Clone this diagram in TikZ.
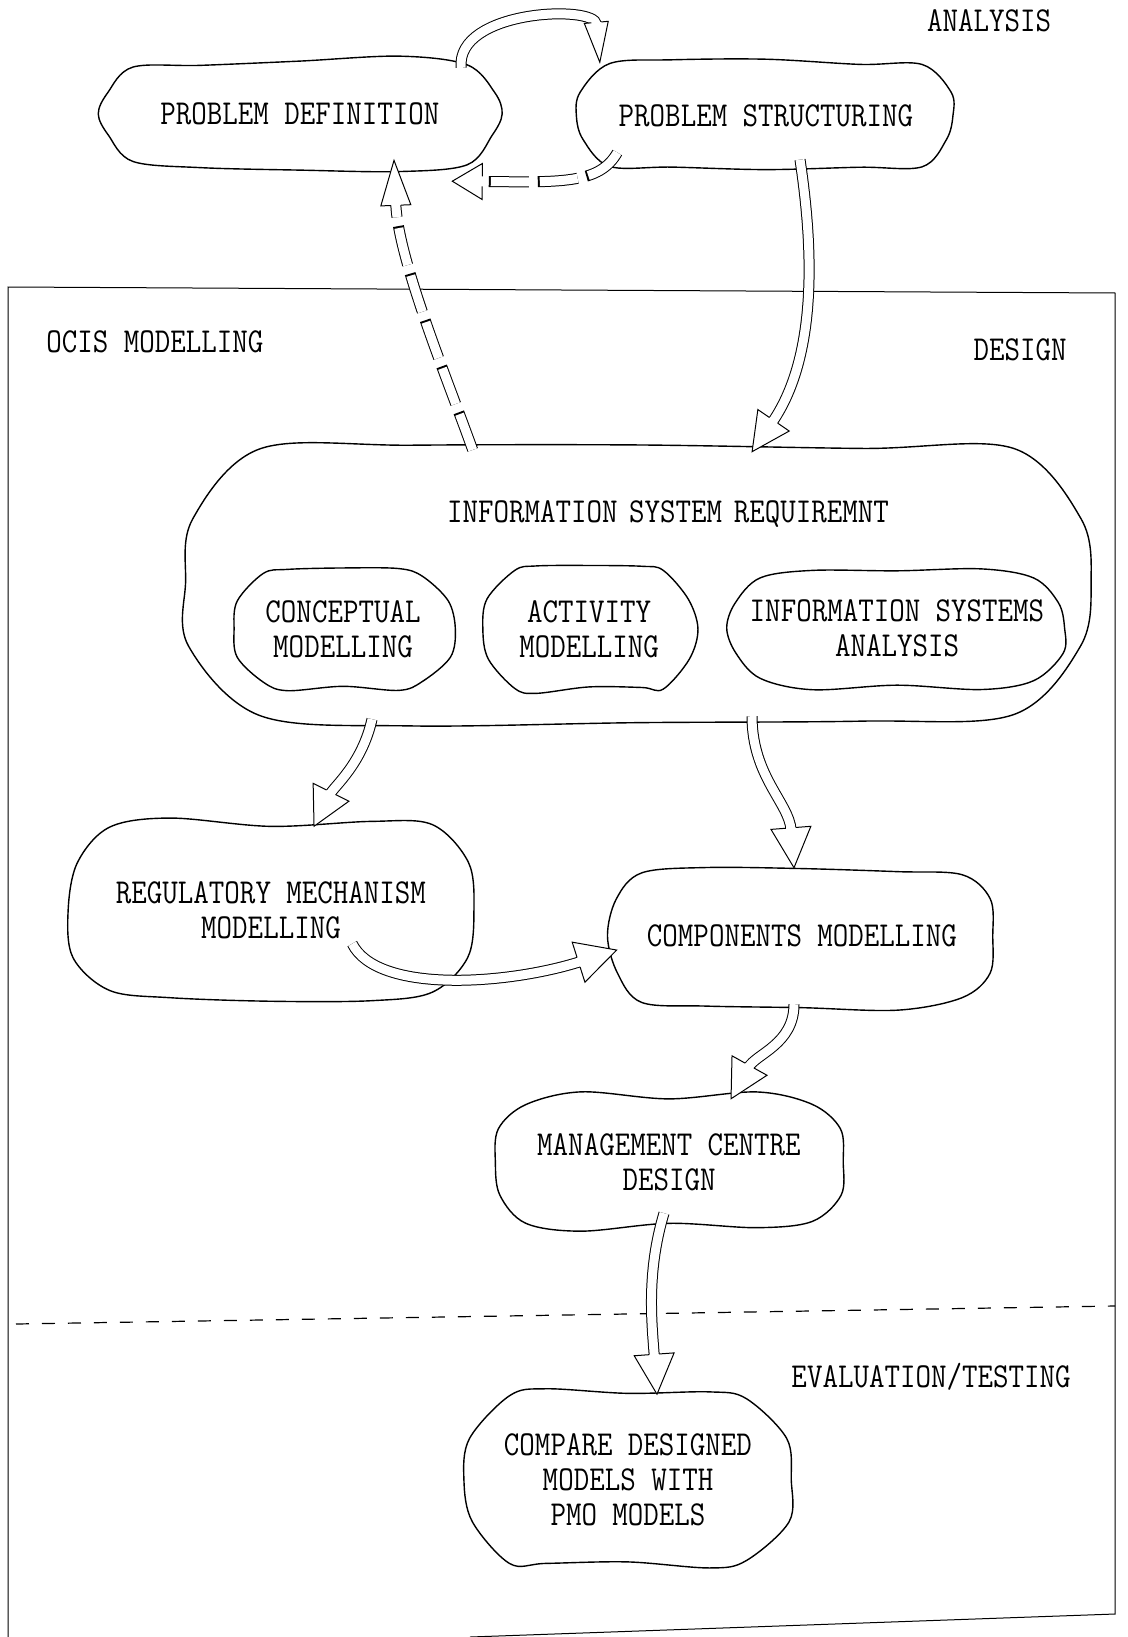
\documentclass[tikz,border=0pt]{standalone}
\usepackage{fontspec}
\newfontfamily\hand[FakeStretch=0.86]{Latin Modern Mono}
\usetikzlibrary{calc,decorations.markings}

\tikzset{
  blobnode/.style={draw=none, inner sep=0pt, align=center, font={\hand\fontsize{35}{35}\selectfont}},
  lbl/.style={inner sep=0pt, font={\hand\fontsize{35}{35}\selectfont}},
  blobline/.style={line width=1.4pt, line join=round},
  ahead/.style n args={2}{postaction={decorate, decoration={markings, mark=at position 0.9995 with {
     \fill[white, shorten >=0pt, shorten <=0pt, solid] (0,0) -- ({-#1},{#2/2}) -- ({-#1},{-#2/2}) -- cycle;
     \draw[black, line width=1pt, solid, shorten >=0pt, shorten <=0pt, line join=miter] ({-#1},5) -- ({-#1},{#2/2}) -- (0,0) -- ({-#1},{-#2/2}) -- ({-#1},-5);
  }}}},
  harrow/.style n args={2}{preaction={draw=black, line width=11pt, shorten >={(#1-2)*1pt}}, draw=white, line width=9pt, shorten >={(#1-2)*1pt}, ahead={#1}{#2}},
  dharrow/.style n args={2}{preaction={draw=black, line width=11pt, dash pattern=on 40pt off 9pt, shorten >={(#1-2)*1pt}}, draw=white, line width=9pt, dash pattern=on 38pt off 11pt, dash phase=48pt, shorten >={(#1-2)*1pt}, ahead={#1}{#2}},
}

\newcommand\blob[2][32]{%
 \draw[blobline] plot[smooth cycle, tension=0.55] coordinates {
  ($(#2.north west)+(#1,{5+3*rand})$)
  ($(#2.north west)!0.25!(#2.north east)+(0,{5*rand})$)
  ($(#2.north)+(0,{5*rand})$)
  ($(#2.north west)!0.75!(#2.north east)+(0,{5*rand})$)
  ($(#2.north east)+(-#1,{5+3*rand})$)
  ($(#2.north east)+({-5+3*rand},#1)$)
  ($(#2.east)+({3*rand},0)$)
  ($(#2.south east)+({-5+3*rand},-#1)$)
  ($(#2.south east)+(-#1,{-5+3*rand})$)
  ($(#2.south west)!0.75!(#2.south east)+(0,{5*rand})$)
  ($(#2.south)+(0,{5*rand})$)
  ($(#2.south west)!0.25!(#2.south east)+(0,{5*rand})$)
  ($(#2.south west)+(#1,{-5+3*rand})$)
  ($(#2.south west)+({5+3*rand},-#1)$)
  ($(#2.west)+({3*rand},0)$)
  ($(#2.north west)+({5+3*rand},#1)$)
 };}

\begin{document}
\begin{tikzpicture}[x=1pt, y=-1pt]
\pgfmathsetseed{12}
\fill[white] (0,0) rectangle (1127,1637);
\useasboundingbox (0,0) rectangle (1127,1637);

% frame and divider
\draw[line width=1pt] (8,1637) -- (8,287) -- (1115,293) -- (1115,1614) -- (470,1637);
\draw[line width=1.2pt, dash pattern=on 13pt off 13pt] (16,1324) -- (1115,1306);

% nodes
\node[blobnode, minimum width=398, minimum height=106] (pd) at (300,114) {PROBLEM DEFINITION};
\node[blobnode, minimum width=376, minimum height=111] (ps) at (766,116) {PROBLEM STRUCTURING};
\node[blobnode, text width=902, text height=78, text depth=199] (isr) at (637,582.5) {\hspace*{62pt}INFORMATION SYSTEM REQUIREMNT};
\node[blobnode, minimum width=223, minimum height=120] (cm) at (343,629) {CONCEPTUAL\\MODELLING};
\node[blobnode, minimum width=212, minimum height=124] (am) at (589,629) {ACTIVITY\\MODELLING};
\node[blobnode, minimum width=337, minimum height=114] (isa) at (897,628) {INFORMATION SYSTEMS\\ANALYSIS};
\node[blobnode, minimum width=402, minimum height=175] (rmm) at (271,910) {REGULATORY MECHANISM\\MODELLING};
\node[blobnode, minimum width=384, minimum height=138] (cmp) at (802,936) {COMPONENTS MODELLING};
\node[blobnode, minimum width=350, minimum height=130] (mcd) at (669,1162) {MANAGEMENT CENTRE\\DESIGN};
\node[blobnode, minimum width=326, minimum height=173] (cdm) at (628,1480) {COMPARE DESIGNED\\MODELS WITH\\PMO MODELS};

\blob{pd}
\blob{ps}
\blob[75]{isr}
\blob{cm}
\blob{am}
\blob{isa}
\blob[40]{rmm}
\blob{cmp}
\blob{mcd}
\blob[45]{cdm}

% labels
\node[lbl] (analysis) at (989,21) {ANALYSIS};
\node[lbl] (ocis) at (155,342) {OCIS MODELLING};
\node[lbl] (design) at (1020,350) {DESIGN};
\node[lbl] (eval) at (931,1377) {EVALUATION/TESTING};

% connectors
\draw[harrow={40}{24}] ($(pd.north east)+(-38,7)$) .. controls +(-6,-58) and +(-5,-58) .. ($(ps.north west)+(22,2)$);
\draw[dharrow={30}{36}] ($(ps.south west)+(40,-20)$) .. controls +(-18,33) and +(108,1) .. ($(pd.south east)+(-47,14)$);
\draw[dharrow={45}{30}] ($(isr.north)+(-164,7)$) .. controls +(-25,-70) and +(4,100) .. ($(pd.south)+(94,-7)$);
\draw[harrow={38}{38}] ($(ps.south)+(34,-12)$) .. controls +(15,100) and +(63,-92) .. ($(isr.north)+(115,8)$);
\draw[harrow={38}{40}] ($(isr.south)+(-265,-2)$) .. controls +(-10,45) and +(20,-40) .. ($(rmm.north)+(43,4)$);
\draw[harrow={40}{40}] ($(isr.south)+(115,-5)$) .. controls +(0,60) and +(-5,-65) .. ($(cmp.north)+(-8,1)$);
\draw[harrow={40}{42}] ($(rmm.south east)+(-120,-54)$) .. controls +(25,50) and +(-110,35) .. ($(cmp.west)+(7,14)$);
\draw[harrow={38}{40}] ($(cmp.south)+(-8,-1)$) .. controls +(0,40) and +(25,-45) .. ($(mcd.north)+(62,2)$);
\draw[harrow={40}{40}] ($(mcd.south)+(-5,-14)$) .. controls +(-18,60) and +(-5,-70) .. ($(cdm.north)+(29,1)$);
\end{tikzpicture}
\end{document}
